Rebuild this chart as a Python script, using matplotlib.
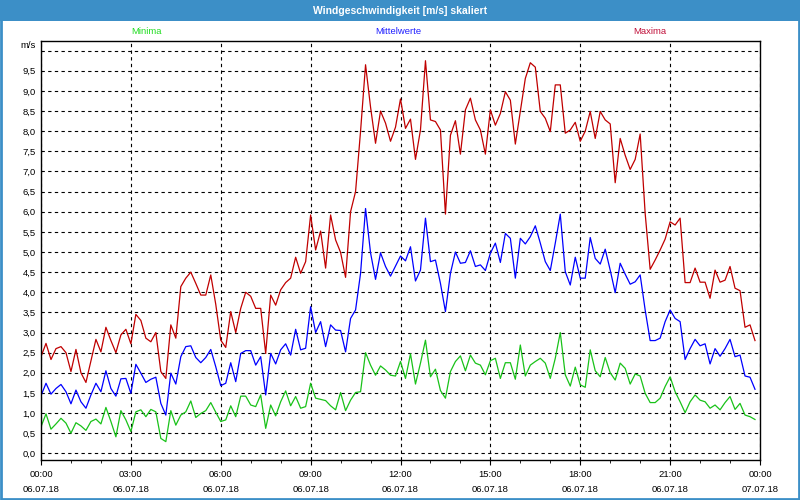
#!/usr/bin/env python3

import matplotlib
import matplotlib.pyplot as plt
import matplotlib.dates as mdates
import matplotlib.ticker as mticker
import numpy as np
import pandas as pd
from matplotlib.patches import Rectangle

matplotlib.use("Agg")

plt.rcParams["font.family"] = ["Liberation Sans", "DejaVu Sans"]

TITLE = "Windgeschwindigkeit [m/s] skaliert"
START = "2018-07-06 00:00"
STEP = "10min"

# 10-minute values, 06.07.18 00:00 .. 23:50
maxima = [
    2.40, 2.73, 2.33, 2.60, 2.65, 2.50, 2.03, 2.58, 2.00, 1.76, 2.30, 2.83,
    2.52, 3.13, 2.80, 2.50, 2.94, 3.08, 2.72, 3.45, 3.30, 2.86, 2.77, 3.00,
    2.03, 1.86, 3.19, 2.86, 4.14, 4.35, 4.50, 4.22, 3.93, 3.93, 4.43, 3.70,
    2.81, 2.63, 3.52, 3.00, 3.60, 4.00, 3.90, 3.60, 3.60, 2.48, 3.93, 3.68,
    4.06, 4.24, 4.35, 4.87, 4.47, 4.76, 5.92, 5.05, 5.52, 4.60, 5.92, 5.30,
    4.99, 4.37, 6.00, 6.50, 8.00, 9.65, 8.60, 7.70, 8.50, 8.20, 7.75, 8.10,
    8.80, 8.07, 8.30, 7.30, 8.03, 9.75, 8.28, 8.24, 8.03, 5.94, 7.90, 8.26,
    7.43, 8.53, 8.82, 8.28, 8.03, 7.43, 8.53, 8.15, 8.44, 8.98, 8.77, 7.68,
    8.49, 9.31, 9.70, 9.59, 8.49, 8.32, 7.99, 9.15, 9.15, 7.95, 8.03, 8.22,
    7.75, 8.00, 8.49, 7.82, 8.49, 8.28, 8.18, 6.72, 7.82, 7.40, 7.05, 7.30,
    7.93, 5.96, 4.57, 4.80, 5.05, 5.32, 5.75, 5.67, 5.84, 4.24, 4.24, 4.60,
    4.25, 4.25, 3.85, 4.55, 4.25, 4.30, 4.64, 4.10, 4.04, 3.13, 3.19, 2.80,
]
mittelwerte = [
    1.43, 1.74, 1.47, 1.61, 1.71, 1.53, 1.23, 1.57, 1.28, 1.12, 1.45, 1.74,
    1.53, 2.05, 1.61, 1.42, 1.85, 1.86, 1.49, 2.21, 1.99, 1.76, 1.84, 1.89,
    1.24, 0.95, 1.99, 1.72, 2.40, 2.65, 2.67, 2.38, 2.25, 2.38, 2.58, 2.15,
    1.68, 1.74, 2.25, 1.78, 2.48, 2.55, 2.55, 2.19, 2.40, 1.45, 2.48, 2.22,
    2.57, 2.72, 2.44, 3.08, 2.57, 2.61, 3.64, 3.00, 3.27, 2.65, 3.19, 3.06,
    3.05, 2.52, 3.35, 3.56, 4.47, 6.08, 4.98, 4.32, 4.98, 4.64, 4.40, 4.65,
    4.90, 4.78, 5.13, 4.28, 4.55, 5.84, 4.76, 4.80, 4.22, 3.52, 4.47, 5.00,
    4.72, 4.74, 5.03, 4.64, 4.68, 4.54, 4.97, 5.22, 4.74, 5.46, 5.34, 4.35,
    5.34, 5.20, 5.38, 5.65, 5.22, 4.76, 4.54, 5.22, 5.94, 4.51, 4.18, 4.87,
    4.35, 4.35, 5.36, 4.84, 4.70, 5.07, 4.55, 3.99, 4.72, 4.45, 4.20, 4.26,
    4.43, 3.56, 2.80, 2.80, 2.86, 3.27, 3.56, 3.35, 3.27, 2.33, 2.60, 2.83,
    2.67, 2.72, 2.22, 2.60, 2.41, 2.60, 2.83, 2.40, 2.44, 1.92, 1.89, 1.59,
]
minima = [
    0.66, 0.98, 0.60, 0.73, 0.87, 0.75, 0.50, 0.76, 0.68, 0.57, 0.79, 0.85,
    0.73, 1.14, 0.79, 0.41, 1.06, 0.83, 0.54, 1.03, 1.08, 0.91, 1.09, 1.03,
    0.37, 0.29, 1.06, 0.70, 0.95, 1.03, 1.30, 0.89, 0.99, 1.06, 1.26, 1.02,
    0.79, 0.83, 1.18, 0.91, 1.42, 1.42, 1.20, 1.16, 1.45, 0.62, 1.20, 0.93,
    1.28, 1.55, 1.18, 1.41, 1.12, 1.16, 1.74, 1.37, 1.34, 1.31, 1.18, 1.08,
    1.51, 1.06, 1.32, 1.51, 1.53, 2.50, 2.19, 1.94, 2.17, 2.07, 1.94, 1.92,
    2.28, 1.86, 2.47, 1.72, 2.24, 2.81, 1.90, 2.09, 1.56, 1.37, 2.03, 2.28,
    2.42, 2.05, 2.44, 2.24, 2.19, 1.95, 2.30, 2.36, 1.86, 2.25, 2.25, 1.84,
    2.69, 1.92, 2.19, 2.28, 2.36, 2.24, 1.86, 2.36, 3.00, 1.95, 1.67, 2.14,
    1.70, 1.64, 2.57, 2.05, 1.90, 2.38, 2.00, 1.82, 2.24, 2.11, 1.72, 1.97,
    1.92, 1.49, 1.26, 1.26, 1.37, 1.66, 1.90, 1.53, 1.28, 1.01, 1.28, 1.45,
    1.32, 1.28, 1.12, 1.20, 1.08, 1.26, 1.41, 1.09, 1.24, 0.95, 0.91, 0.84,
]

series_labels = ["Minima", "Mittelwerte", "Maxima"]
line_colors = ["#19c219", "#0000ff", "#c00000"]
label_colors = ["#22dd22", "#2020ff", "#c0103a"]
BAR = "#3c8fc7"

times = pd.date_range(START, periods=len(maxima), freq=STEP)

fig = plt.figure(figsize=(8, 5), dpi=100)
fig.patch.set_facecolor("white")

# title bar and outer frame
fig.patches.append(Rectangle((0, 1 - 21 / 500), 1, 21 / 500, transform=fig.transFigure,
                             facecolor=BAR, edgecolor="none", zorder=0))
fig.patches.append(Rectangle((0.001, 0.002), 0.998, 0.996, transform=fig.transFigure,
                             fill=False, edgecolor=BAR, linewidth=2, zorder=5))
fig.text(0.5, 1 - 10.5 / 500, TITLE, color="white", fontsize=7.5, fontweight="bold",
         ha="center", va="center")

ax = fig.add_axes([41 / 800, 40 / 500, 719 / 800, 419 / 500])

for values, color in zip([minima, mittelwerte, maxima], line_colors):
    ax.plot(times, values, color=color, linewidth=0.9)

ax.set_xlim(times[0], times[0] + pd.Timedelta(hours=24))
ax.set_ylim(-0.166, 10.24)

yticks = np.arange(0, 10.01, 0.5)
ax.yaxis.set_major_locator(mticker.FixedLocator(yticks))
ax.set_yticklabels([f"{v:.1f}".replace(".", ",") if v < 9.9 else "" for v in yticks])
ax.tick_params(axis="y", length=0, pad=4, labelsize=6.8)

ax.xaxis.set_major_locator(mdates.HourLocator(byhour=range(0, 24, 3)))
ax.xaxis.set_minor_locator(mdates.HourLocator())
ax.xaxis.set_major_formatter(mdates.DateFormatter("%H:%M\n%d.%m.%y"))
ax.tick_params(axis="x", which="major", length=3.5, pad=3.5, labelsize=6.8)
ax.tick_params(axis="x", which="minor", length=2.5)
for lbl in ax.get_xticklabels():
    lbl.set_linespacing(1.85)

ax.grid(True, which="major", color="black", linestyle=(0, (3, 3)), linewidth=0.8)
for sp in ax.spines.values():
    sp.set_linewidth(1)

fig.text(36 / 800, 1 - 45 / 500, "m/s", fontsize=6.8, ha="right", va="center")
for label, color, xpos in zip(series_labels, label_colors, [146, 398, 650]):
    fig.text(xpos / 800, 1 - 31 / 500, label, color=color, fontsize=6.8,
             ha="center", va="center")

fig.savefig("out.png", dpi=100)
